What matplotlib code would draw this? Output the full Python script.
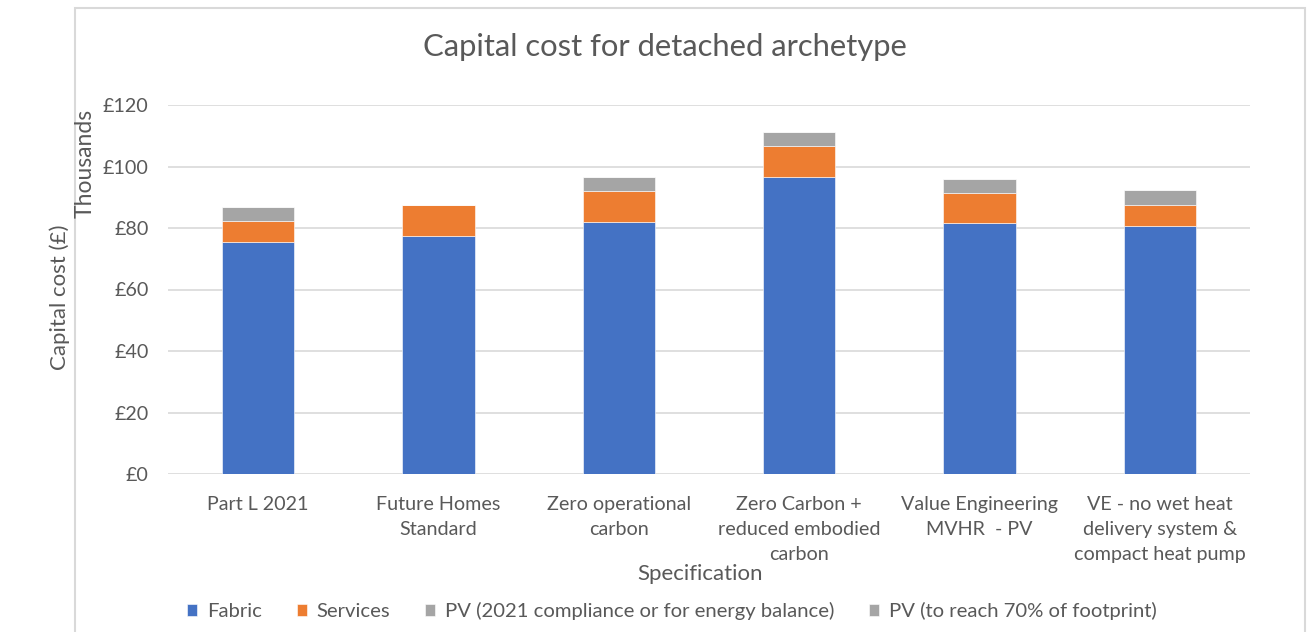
import matplotlib
matplotlib.use("Agg")
import matplotlib.pyplot as plt
from matplotlib.patches import Rectangle
import numpy as np

plt.rcParams['font.family'] = ['Lato', 'DejaVu Sans']

categories = [
    "Part L 2021",
    "Future Homes\nStandard",
    "Zero operational\ncarbon",
    "Zero Carbon +\nreduced embodied\ncarbon",
    "Value Engineering\nMVHR  - PV",
    "VE - no wet heat\ndelivery system &\ncompact heat pump",
]
fabric = [75.4, 77.4, 82.0, 96.6, 81.5, 80.8]
services = [6.8, 10.1, 10.0, 10.2, 9.9, 6.7]
pv_compliance = [4.5, 0.0, 4.5, 4.4, 4.4, 4.9]
pv_footprint = [0.0, 0.0, 0.0, 0.0, 0.0, 0.0]
series_names = ["Fabric", "Services", "PV (2021 compliance or for energy balance)",
                "PV (to reach 70% of footprint)"]
yticks = [0, 20, 40, 60, 80, 100, 120]

colors = ["#4472C4", "#ED7D31", "#A5A5A5", "#A5A5A5"]
txt = "#595959"
grid = "#D9D9D9"

W, H = 1313, 632
fig = plt.figure(figsize=(W / 100, H / 100), dpi=100)
fig.patch.set_facecolor("white")

# chart frame
fig.add_artist(Rectangle((75 / W, -0.05), (1305 - 75) / W, 1.05 - 8 / H,
                         transform=fig.transFigure, fill=False,
                         edgecolor=grid, linewidth=1.5))

ax = fig.add_axes([168 / W, 1 - 474 / H, (1250 - 168) / W, (474 - 105) / H])
x = np.arange(len(categories))
bottom = np.zeros(len(categories))
for name, vals, c in zip(series_names, [fabric, services, pv_compliance, pv_footprint], colors):
    v = np.array(vals)
    ax.bar(x, v, width=0.4, bottom=bottom, color=c, label=name,
           edgecolor="white", linewidth=0.4, zorder=3)
    bottom = bottom + v

ax.set_xlim(-0.5, len(categories) - 0.5)
ax.set_ylim(0, 120)
ax.set_yticks(yticks)
ax.set_yticklabels([f"£{t}" for t in yticks])
ax.set_xticks(x)
ax.set_xticklabels(categories)
for lab in ax.get_xticklabels():
    lab.set_linespacing(1.55)
ax.tick_params(axis="both", length=0, colors=txt, labelsize=14.2)
ax.tick_params(axis="y", pad=14)
ax.tick_params(axis="x", pad=16)
ax.yaxis.grid(True, color=grid, linewidth=1.2, zorder=0)
ax.set_axisbelow(True)
for s in ax.spines.values():
    s.set_visible(False)

fig.text(665 / W, 1 - 47 / H, "Capital cost for detached archetype",
         ha="center", va="center", fontsize=22.3, color=txt)
fig.text(700 / W, 1 - 574 / H, "Specification", ha="center", va="center",
         fontsize=16, color=txt)
fig.text(60 / W, 1 - 297 / H, "Capital cost (£)", ha="center", va="center",
         rotation=90, fontsize=16.0, color=txt)
fig.text(85 / W, 1 - 163 / H, "Thousands", ha="center", va="center",
         rotation=90, fontsize=16.5, color=txt)

handles, labels = ax.get_legend_handles_labels()
fig.legend(handles, labels, loc="center", bbox_to_anchor=(672 / W, 1 - 611 / H),
           ncol=4, frameon=False, fontsize=14.6, labelcolor=txt,
           handlelength=0.5, handleheight=0.5, handletextpad=0.5,
           columnspacing=1.7)

fig.savefig("out.png", dpi=100)
